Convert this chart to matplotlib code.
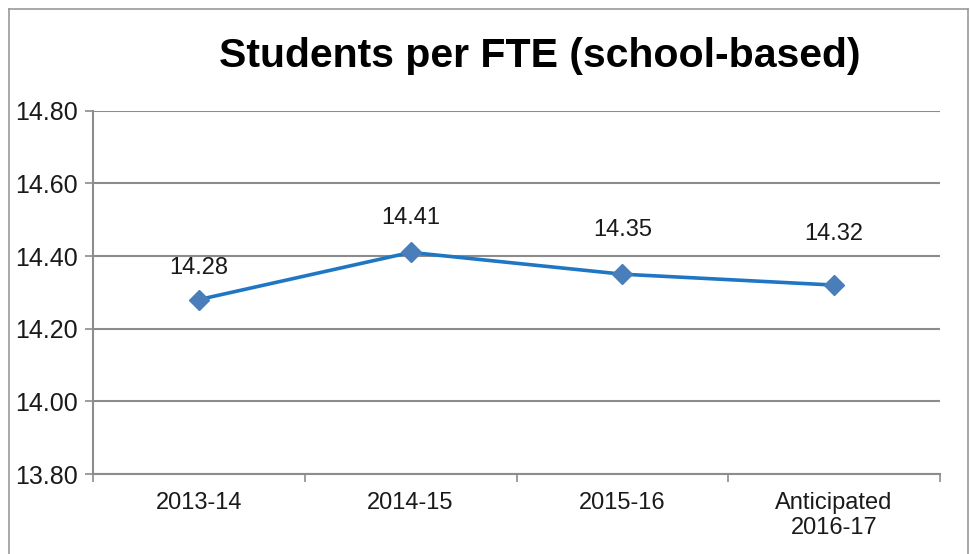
import matplotlib
matplotlib.use("Agg")
import matplotlib.pyplot as plt
from matplotlib.lines import Line2D

categories = ["2013-14", "2014-15", "2015-16", "Anticipated\n2016-17"]
values = [14.28, 14.41, 14.35, 14.32]
y_ticks = [13.80, 14.00, 14.20, 14.40, 14.60, 14.80]

# vertical gap (pixels) between each point and its data label, as in the source
label_gap_px = [32, 34, 44, 51]

plt.rcParams['font.family'] = ['Liberation Sans', 'DejaVu Sans']

W, H = 972, 554
fig = plt.figure(figsize=(W / 100, H / 100), dpi=100)
ax = fig.add_axes([93 / W, 1 - 474 / H, (940 - 93) / W, (474 - 110.7) / H])

grid_c = '#8c8c8c'
x = list(range(len(values)))
ax.plot(x, values, color='#1f77c4', linewidth=2.6, zorder=3)
ax.plot(x, values, linestyle='none', marker='D', markersize=10,
        color='#4a7ebb', zorder=4)

for xi, v, gap in zip(x, values, label_gap_px):
    ax.annotate(f"{v:.2f}", (xi, v), xytext=(0, gap * 0.72), textcoords='offset points',
                ha='center', va='center', fontsize=17, color='#1a1a1a')

ax.set_xlim(-0.5, len(values) - 0.5)
ax.set_ylim(13.80, 14.80)
ax.set_yticks(y_ticks)
ax.set_yticklabels([f"{t:.2f}" for t in y_ticks], fontsize=18, color='#1a1a1a')
ax.yaxis.grid(True, color=grid_c, linewidth=1.5)
ax.set_axisbelow(True)

# category labels centred, ticks on the category boundaries
ax.set_xticks(x)
ax.set_xticklabels(categories, fontsize=17, color='#1a1a1a', linespacing=1.15)
ax.tick_params(axis='x', length=0, pad=13)
ax.set_xticks([i - 0.5 for i in range(len(values) + 1)], minor=True)
ax.tick_params(axis='x', which='minor', length=6, width=1.2, color=grid_c)
ax.tick_params(axis='y', length=6, width=1.2, color=grid_c, pad=5)

for s in ['top', 'right']:
    ax.spines[s].set_visible(False)
for s in ['left', 'bottom']:
    ax.spines[s].set_color(grid_c)
    ax.spines[s].set_linewidth(1.5)

fig.text(540 / W, 1 - 67 / H, "Students per FTE (school-based)", ha='center',
         va='baseline', fontsize=29.5, fontweight='bold', color='black')

# outer chart frame (bottom edge cropped off)
for xs, ys in [([9, 9], [9, H]), ([9, 968], [9, 9]), ([968, 968], [9, H])]:
    fig.add_artist(Line2D([v / W for v in xs], [1 - v / H for v in ys],
                          color='#9a9a9a', linewidth=1.2))

fig.savefig("out.png", dpi=100, facecolor='white')
